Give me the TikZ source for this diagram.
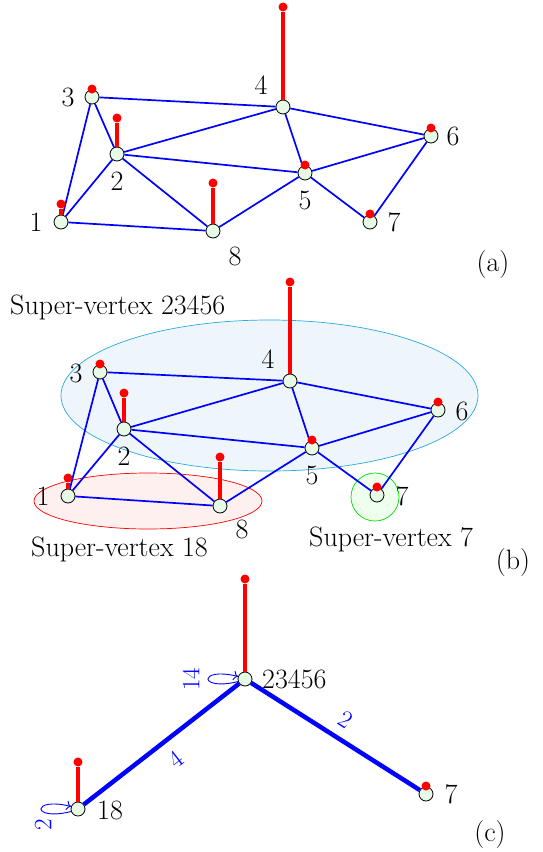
\documentclass[tikz,border=0pt]{standalone}
\usepackage{fontspec}
\usetikzlibrary{shapes.geometric,arrows.meta}
\definecolor{nodefill}{RGB}{230,250,230}
\definecolor{bluefill}{RGB}{238,246,252}
\definecolor{blueline}{RGB}{40,170,225}
\definecolor{redfill}{RGB}{255,240,240}
\definecolor{greenfill}{RGB}{238,255,238}
\definecolor{greenline}{RGB}{0,225,0}
\begin{document}
\begin{tikzpicture}[x=1pt,y=-1pt,
  vtx/.style={circle,draw=black,line width=0.8pt,fill=nodefill,minimum size=14pt,inner sep=0pt},
  lbl/.style={font=\fontsize{28}{32}\selectfont,inner sep=0pt},
  edg/.style={blue,line width=1.7pt},
  fat/.style={blue,line width=4.5pt},
  stick/.style={red,line width=4pt},
  rdot/.style={circle,fill=red,minimum size=9pt,inner sep=0pt},
  elab/.style={blue,font=\fontsize{25}{29}\selectfont,inner sep=0pt},
  loopline/.style={blue,line width=0.9pt,-{To[scale=1.3]}},
]
\useasboundingbox (0,0) rectangle (543,852);

% ---------------- (a) ----------------
\node[vtx] (a1) at (61,222) {};
\node[vtx] (a2) at (117,154) {};
\node[vtx] (a3) at (92,97) {};
\node[vtx] (a4) at (283,107) {};
\node[vtx] (a5) at (305,173) {};
\node[vtx] (a6) at (431,136) {};
\node[vtx] (a7) at (370,222) {};
\node[vtx] (a8) at (213,231) {};
\foreach \u/\v in {1/3,1/2,1/8,3/2,3/4,2/4,2/5,2/8,4/5,4/6,5/6,5/8,5/7,6/7}
  \draw[edg] (a\u) -- (a\v);
\node[rdot] (a1d) at (61,204) {};
\node[rdot] (a2d) at (117,118) {};
\node[rdot] (a3d) at (92,89) {};
\node[rdot] (a4d) at (283,7) {};
\node[rdot] (a5d) at (305,165) {};
\node[rdot] (a6d) at (431,128) {};
\node[rdot] (a7d) at (370,214) {};
\node[rdot] (a8d) at (213,183) {};
\foreach \u in {1,2,4,8} \draw[stick] (a\u) -- (a\u d);
\node[lbl] (la1) at (36,222) {1};
\node[lbl] (la2) at (117,181) {2};
\node[lbl] (la3) at (68,97) {3};
\node[lbl] (la4) at (261,85) {4};
\node[lbl] (la5) at (305,200) {5};
\node[lbl] (la6) at (453,136) {6};
\node[lbl] (la7) at (394,222) {7};
\node[lbl] (la8) at (235,256) {8};
\node[lbl] (capa) at (493,265) {(a)};

% ---------------- (b) ----------------
\node[ellipse,draw=blueline,fill=bluefill,line width=0.7pt,minimum width=417pt,minimum height=151pt,inner sep=0pt] (sv1) at (269.5,395.5) {};
\node[ellipse,draw=red,fill=redfill,line width=0.7pt,minimum width=228pt,minimum height=56pt,inner sep=0pt] (sv2) at (148,501) {};
\node[circle,draw=greenline,fill=greenfill,line width=0.7pt,minimum size=48pt,inner sep=0pt] (sv3) at (375,497) {};
\node[vtx] (b1) at (68,496) {};
\node[vtx] (b2) at (124,429) {};
\node[vtx] (b3) at (100,372) {};
\node[vtx] (b4) at (290,381) {};
\node[vtx] (b5) at (312,448) {};
\node[vtx] (b6) at (438,410) {};
\node[vtx] (b7) at (377,495) {};
\node[vtx] (b8) at (220,506) {};
\foreach \u/\v in {1/3,1/2,1/8,3/2,3/4,2/4,2/5,2/8,4/5,4/6,5/6,5/8,5/7,6/7}
  \draw[edg] (b\u) -- (b\v);
\node[rdot] (b1d) at (68,478) {};
\node[rdot] (b2d) at (124,393) {};
\node[rdot] (b3d) at (100,364) {};
\node[rdot] (b4d) at (290,282) {};
\node[rdot] (b5d) at (312,440) {};
\node[rdot] (b6d) at (438,402) {};
\node[rdot] (b7d) at (377,487) {};
\node[rdot] (b8d) at (220,457) {};
\foreach \u in {1,2,4,8} \draw[stick] (b\u) -- (b\u d);
\node[lbl] (lb1) at (43,496) {1};
\node[lbl] (lb2) at (124,456) {2};
\node[lbl] (lb3) at (76,373) {3};
\node[lbl] (lb4) at (268,359) {4};
\node[lbl] (lb5) at (312,475) {5};
\node[lbl] (lb6) at (462,411) {6};
\node[lbl] (lb7) at (402,496) {7};
\node[lbl] (lb8) at (242,529) {8};
\node[lbl,anchor=base west] (tsv1) at (10,314) {Super-vertex 23456};
\node[lbl,anchor=base west] (tsv2) at (31,556) {Super-vertex 18};
\node[lbl,anchor=base west] (tsv3) at (309,546) {Super-vertex 7};
\node[lbl] (capb) at (513,563) {(b)};

% ---------------- (c) ----------------
\node[vtx] (c1) at (245,679) {};
\node[vtx] (c18) at (78,809) {};
\node[vtx] (c7) at (426,794) {};
\draw[fat] (c18) -- node[elab,sloped,pos=0.51,below=10pt] {4} (c1);
\draw[fat] (c1) -- node[elab,sloped,pos=0.5,above=9.5pt] {2} (c7);
\node[rdot] (c1d) at (245,579) {};
\node[rdot] (c18d) at (78,762) {};
\node[rdot] (c7d) at (426,786) {};
\draw[stick] (c1) -- (c1d);
\draw[stick] (c18) -- (c18d);
\draw[loopline] (c1.200) .. controls +(-40,10) and +(-40,-10) .. (c1.160);
\draw[loopline] (c18.200) .. controls +(-40,10) and +(-40,-10) .. (c18.160);
\node[elab,rotate=90] (l14) at (191,679) {14};
\node[elab,rotate=90] (l2) at (43,825) {2};
\node[lbl,anchor=west] (lc1) at (262,679) {23456};
\node[lbl] (lc18) at (110,810) {18};
\node[lbl] (lc7) at (451,794) {7};
\node[lbl] (capc) at (490,835) {(c)};
\end{tikzpicture}
\end{document}
